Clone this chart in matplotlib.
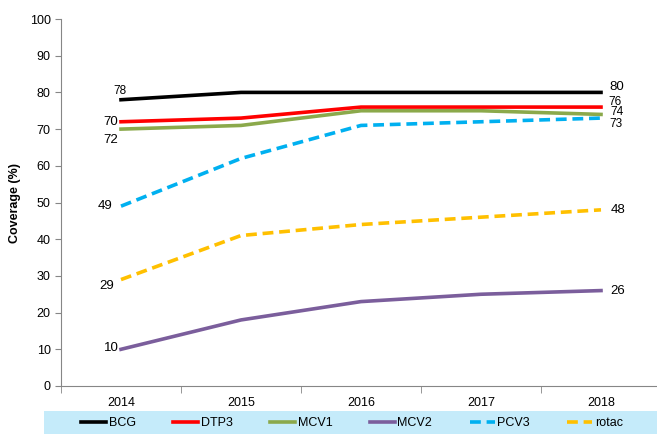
import matplotlib
matplotlib.use("Agg")
import matplotlib.pyplot as plt
from matplotlib.patches import Rectangle

plt.rcParams["font.family"] = ["Liberation Sans", "DejaVu Sans"]

years = ["2014", "2015", "2016", "2017", "2018"]
series_names = ["BCG", "DTP3", "MCV1", "MCV2", "PCV3", "rotac"]
bcg = [78, 80, 80, 80, 80]
dtp3 = [72, 73, 76, 76, 76]
mcv1 = [70, 71, 75, 75, 74]
mcv2 = [10, 18, 23, 25, 26]
pcv3 = [49, 62, 71, 72, 73]
rotac = [29, 41, 44, 46, 48]
# labels as printed on the chart (first / last point)
first_labels = ["78", "70", "72", "10", "49", "29"]
last_labels = ["80", "76", "74", "26", "73", "48"]

colors = ["#000000", "#FF0000", "#8BA94B", "#7B5E9C", "#00B0F0", "#FFC000"]
styles = ["-", "-", "-", "-", "--", "--"]

fig = plt.figure(figsize=(6.57, 4.34), dpi=100)
ax = fig.add_axes([61 / 657, 1 - 386 / 434, 600 / 657, 367 / 434])

x = list(range(len(years)))
all_series = [bcg, dtp3, mcv1, mcv2, pcv3, rotac]
for name, vals, c, ls in zip(series_names, all_series, colors, styles):
    ax.plot(x, vals, color=c, linestyle=ls, lw=2.6, label=name,
            dashes=(3, 1.6) if ls == "--" else (None, None))

# offsets of the point labels (points)
first_off = [(-1, 6), (-2, 0), (-2, -8), (-1.5, 1), (-6, 0), (-5, -4.5)]
first_ha = ["center", "right", "right", "right", "right", "right"]
last_off = [(6, 4), (5, 4), (7, 1.5), (7, 0), (6, -4.5), (7, 0)]
for i, vals in enumerate(all_series):
    ox, oy = first_off[i]
    ax.annotate(first_labels[i], (0, vals[0]), xytext=(ox, oy), textcoords="offset points",
                ha=first_ha[i], va="center", fontsize=8.5 if i == 0 else 9.5)
    ox, oy = last_off[i]
    ax.annotate(last_labels[i], (4, vals[-1]), xytext=(ox, oy), textcoords="offset points",
                ha="left", va="center", fontsize=8.5 if i in (1, 2, 4) else 9.5)

ax.set_xlim(-0.5, 4.5)
ax.set_ylim(0, 100)
ax.set_yticks(range(0, 101, 10))
ax.set_xticks(x)
ax.set_xticklabels(years)
ax.set_xticks([-0.5, 0.5, 1.5, 2.5, 3.5], minor=True)
ax.tick_params(axis="x", which="major", length=0, pad=8, labelsize=9)
ax.tick_params(axis="x", which="minor", length=5, color="#868686")
ax.tick_params(axis="y", length=4, color="#868686", labelsize=9)
ax.set_ylabel("Coverage (%)", fontsize=9, fontweight="bold", labelpad=6)
for s in ["top", "right"]:
    ax.spines[s].set_visible(False)
for s in ["left", "bottom"]:
    ax.spines[s].set_color("#868686")

fig.patches.append(Rectangle((44 / 657, 0), 613 / 657, 23 / 434, transform=fig.transFigure,
                             facecolor="#C5EBFA", edgecolor="none", zorder=0))
fig.legend(loc="center", bbox_to_anchor=(352 / 657, 11 / 434), ncol=6, frameon=False,
           fontsize=9, handlelength=2.0, handletextpad=0.2, columnspacing=3.0)

fig.savefig("out.png", dpi=100)
